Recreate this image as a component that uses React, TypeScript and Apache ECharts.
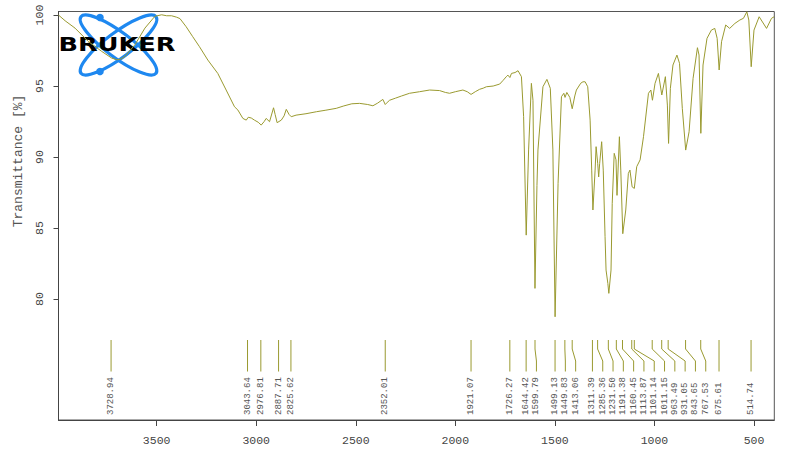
import React, { useEffect, useRef } from "react";
import * as echarts from "echarts";

// Spectrum data: wavenumber (cm-1) and transmittance (%)
const wavenumbers = [
  3993, 3960, 3910, 3844, 3776, 3726, 3700, 3680, 3659, 3609, 3559, 3509, 3475, 3450, 3425, 3400, 3383,
  3352, 3320, 3285, 3243, 3193, 3151, 3109, 3092, 3067, 3050, 3040, 3025, 3009, 2990, 2975, 2960, 2950,
  2933, 2913, 2905, 2895, 2874, 2860, 2849, 2835, 2824, 2800, 2750, 2698, 2650, 2598, 2560, 2520, 2481,
  2440, 2414, 2390, 2364, 2352, 2347, 2330, 2300, 2270, 2230, 2180, 2129, 2079, 2050, 2029, 2000, 1962,
  1940, 1921, 1900, 1878, 1860, 1844, 1810, 1777, 1760, 1744, 1736, 1726, 1718, 1700, 1685, 1668, 1657,
  1644, 1632, 1618, 1610, 1600, 1590, 1585, 1560, 1540, 1523, 1510, 1499, 1484, 1467, 1455, 1449, 1440,
  1425, 1413, 1400, 1392, 1370, 1359, 1348, 1335, 1323, 1315, 1309, 1298, 1293, 1285, 1280, 1275, 1265,
  1257, 1248, 1243, 1234, 1229, 1218, 1212, 1202, 1193, 1188, 1176, 1169, 1159, 1144, 1131, 1123, 1112,
  1101, 1089, 1072, 1055, 1030, 1018, 1010, 997, 980, 963, 945, 935, 929, 920, 907, 887, 874, 860, 843,
  826, 806, 784, 776, 767, 756, 736, 714, 697, 685, 675, 663, 642, 622, 596, 571, 553, 536, 526, 514,
  500, 474, 437, 412, 399,
];
const transmittance = [
  100.0, 99.6, 99.08, 98.15, 97.44, 96.97, 96.85, 96.9, 97.09, 97.91, 99.08, 99.91, 100.02, 99.95, 99.95, 99.85, 99.75,
  99.18, 98.5, 97.77, 96.83, 95.89, 94.72, 93.54, 93.31, 92.72, 92.6, 92.8, 92.75, 92.6, 92.45, 92.25, 92.5, 92.72,
  92.49, 93.47, 93.0, 92.42, 92.6, 92.9, 93.36, 93.0, 92.84, 92.95, 93.05, 93.19, 93.3, 93.43, 93.6, 93.75, 93.78,
  93.7, 93.61, 93.8, 94.06, 93.7, 93.78, 94.0, 94.15, 94.3, 94.49, 94.6, 94.72, 94.68, 94.55, 94.49, 94.6, 94.72,
  94.6, 94.41, 94.6, 94.77, 94.85, 94.95, 95.0, 95.14, 95.4, 95.66, 95.77, 95.6, 95.89, 95.95, 96.08, 95.66, 92.84,
  84.5, 90.5, 95.19, 94.0, 80.75, 88.0, 90.5, 94.95, 95.47, 94.84, 90.5, 78.75, 88.15, 94.25, 94.49, 94.2, 94.55,
  94.2, 93.4, 94.3, 94.72, 95.2, 95.3, 95.3, 94.95, 92.6, 89.08, 86.27, 89.08, 90.73, 89.56, 88.6, 89.56, 91.08,
  89.08, 84.4, 82.04, 81.1, 80.4, 82.04, 86.74, 90.26, 89.8, 87.3, 91.43, 89.08, 84.6, 86.27, 88.85, 89.08, 87.9,
  87.79, 89.32, 89.8, 91.43, 94.49, 94.72, 94.0, 95.19, 95.89, 94.37, 95.66, 93.66, 90.96, 94.84, 96.48, 97.18, 96.6, 93.43, 90.49,
  91.78, 95.54, 97.7, 97.18, 91.67, 96.48, 98.36, 98.94, 99.06, 98.36, 96.13, 98.12, 99.3, 99.06, 99.41, 99.65, 99.77, 100.23, 99.65, 96.36,
  98.94, 99.88, 99.06, 99.77, 99.88,
];

// Peak picks (cm-1)
const peakPositions = [
  3728.94, 3043.64, 2976.81, 2887.71, 2825.62, 2352.01, 1921.07, 1726.27, 1644.42, 1599.79, 1499.13,
  1449.83, 1413.06, 1311.39, 1285.36, 1231.5, 1191.38, 1160.45, 1113.87, 1101.14, 1011.15, 963.49,
  931.05, 843.65, 767.53, 675.61, 514.74,
];

const xTicks = [500, 1000, 1500, 2000, 2500, 3000, 3500];
const yTicks = [80, 85, 90, 95, 100];

const LINE_COLOR = "#9a9a30";
const LOGO_BLUE = "#1e88f0";
const MONO = "'Liberation Mono', 'DejaVu Sans Mono', monospace";

export default function App() {
  const ref = useRef<HTMLDivElement>(null);

  useEffect(() => {
    document.body.style.margin = "0";
    if (!ref.current) return;
    const chart = echarts.init(ref.current, null, { renderer: "svg" });

    const spectrum = wavenumbers.map((w, i) => [w, transmittance[i]]);

    const option: any = {
      animation: false,
      backgroundColor: "#ffffff",
      grid: {
        left: 58.5,
        right: 25.7,
        top: 11.5,
        bottom: 33,
        show: true,
        borderColor: "#555",
        borderWidth: 1,
        backgroundColor: "transparent",
      },
      xAxis: {
        type: "value",
        inverse: true,
        min: 398,
        max: 3993,
        axisLine: { show: true, onZero: false, lineStyle: { color: "#444", width: 1 } },
        axisTick: { show: true, length: 6, customValues: xTicks, lineStyle: { color: "#444" } },
        axisLabel: {
          customValues: xTicks,
          formatter: (v: number) => String(v),
          margin: 14,
          color: "#444",
          fontFamily: MONO,
          fontSize: 11.5,
        },
        splitLine: { show: false },
      },
      yAxis: {
        type: "value",
        min: 71.48,
        max: 100.25,
        axisLine: { show: true, onZero: false, lineStyle: { color: "#444", width: 1 } },
        axisTick: { show: true, length: 5, customValues: yTicks, lineStyle: { color: "#444" } },
        axisLabel: {
          customValues: yTicks,
          formatter: (v: number) => String(v),
          rotate: 90,
          margin: 13,
          color: "#444",
          fontFamily: MONO,
          fontSize: 11.5,
        },
        splitLine: { show: false },
      },
      series: [
        {
          type: "line",
          data: spectrum,
          symbol: "none",
          lineStyle: { color: LINE_COLOR, width: 1 },
          clip: true,
          z: 2,
        },
        {
          type: "custom",
          data: peakPositions.map((p) => [p, 75]),
          encode: { x: 0, y: 1 },
          z: 3,
          renderItem: (params: any, api: any) => {
            const cs = params.coordSys;
            const bottom = cs.y + cs.height;
            const px = peakPositions.map((p) => api.coord([p, 75])[0]);
            const lx: number[] = [];
            const gap = 10.3;
            for (let k = 0; k < px.length; k++) {
              lx[k] = k === 0 ? px[k] : Math.max(px[k], lx[k - 1] + gap);
            }
            const i = params.dataIndex;
            return {
              type: "group",
              children: [
                {
                  type: "polyline",
                  shape: {
                    points: [
                      [px[i], bottom - 80],
                      [px[i], bottom - 71],
                      [lx[i], bottom - 59],
                      [lx[i], bottom - 48.5],
                    ],
                  },
                  style: { stroke: LINE_COLOR, lineWidth: 1, fill: null },
                },
                {
                  type: "text",
                  x: lx[i],
                  y: bottom - 5,
                  rotation: Math.PI / 2,
                  style: {
                    text: peakPositions[i].toFixed(2),
                    fill: "#555",
                    font: `9px ${MONO}`,
                    align: "left",
                    verticalAlign: "middle",
                  },
                },
              ],
            };
          },
        },
      ],
      graphic: [
        {
          type: "text",
          x: 18,
          y: 161,
          rotation: Math.PI / 2,
          style: {
            text: "Transmittance [%]",
            fill: "#555",
            font: `13px ${MONO}`,
            align: "center",
            verticalAlign: "middle",
          },
          z: 10,
        },
        {
          type: "group",
          z: 20,
          children: [
            {
              type: "ellipse",
              x: 118.5,
              y: 45,
              rotation: (37 * Math.PI) / 180,
              shape: { cx: 0, cy: 0, rx: 47, ry: 12.5 },
              style: { fill: "none", stroke: LOGO_BLUE, lineWidth: 3.2 },
            },
            {
              type: "ellipse",
              x: 118.5,
              y: 45,
              rotation: (-37 * Math.PI) / 180,
              shape: { cx: 0, cy: 0, rx: 47, ry: 12.5 },
              style: { fill: "none", stroke: LOGO_BLUE, lineWidth: 3.2 },
            },
            {
              type: "circle",
              shape: { cx: 100, cy: 17.5, r: 3.8 },
              style: { fill: LOGO_BLUE },
            },
            {
              type: "circle",
              shape: { cx: 100, cy: 71.5, r: 3.8 },
              style: { fill: LOGO_BLUE },
            },
            {
              type: "text",
              x: 58.5,
              y: 44,
              scaleX: 1.28,
              style: {
                text: "BRUKER",
                fill: "#000",
                font: "bold 20px 'DejaVu Sans', sans-serif",
                align: "left",
                verticalAlign: "middle",
              },
            },
          ],
        },
      ],
    };

    chart.setOption(option);
    return () => chart.dispose();
  }, []);

  return <div ref={ref} style={{ width: 800, height: 453 }} />;
}
